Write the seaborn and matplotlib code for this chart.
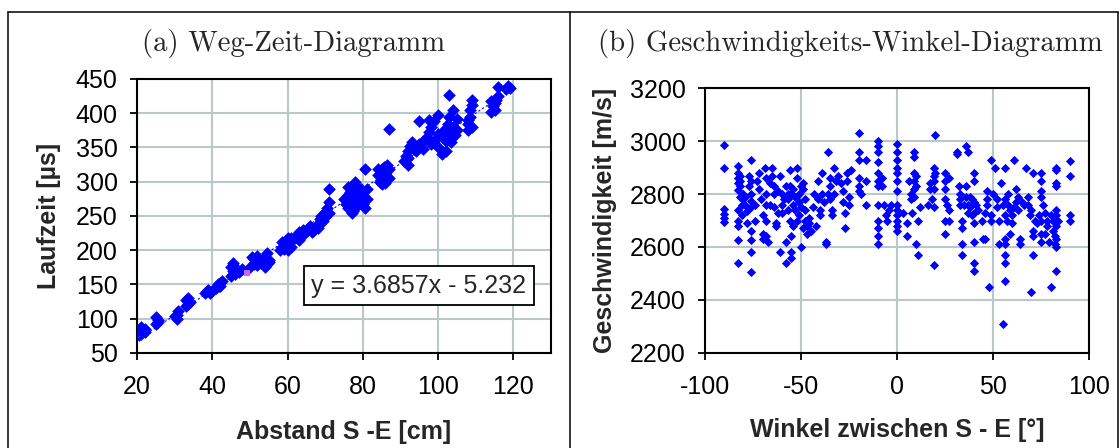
import pandas as pd
import matplotlib
matplotlib.use("Agg")
import matplotlib.pyplot as plt
import seaborn as sns
from matplotlib.lines import Line2D

# Weg-Zeit data
abstand = [21, 21.5, 22, 21, 22, 20.5,
           25, 25.5, 25, 25.5,
           30.5, 30.5, 31, 30,
           33, 33.5, 33, 34, 33.5,
           38, 38.5, 39, 40, 41, 42, 41.5, 39.5,
           42, 42.5, 41.8,
           45.5, 45, 45.5, 45, 46, 45.5,
           47, 48, 50, 51, 51.5, 52, 53, 50.5, 52, 51,
           54, 54.5, 55, 54, 54.5, 55,
           58, 58.5, 59, 59.5, 60, 60.5, 61, 59, 60, 58.5, 61, 60,
           62, 62.5, 63, 64, 63, 64,
           65, 65.5, 66, 67, 66.5,
           68, 68.5, 69, 70, 69.5, 70, 70.5, 68,
           71, 71, 71,
           75, 75.5, 76, 76, 76.5, 77, 77, 77.5, 78, 78, 78.5, 79, 79, 79.5,
           80, 80, 80.5, 81, 81, 77, 76, 78, 80,
           80.5,
           84, 84.5, 85, 85, 85.5, 86, 86, 86.5, 87, 85, 84, 86.5, 87,
           87,
           91, 91.5, 92, 92.5, 92, 93, 93.5, 92,
           94, 95, 95, 96, 96, 97, 97.5, 98, 98, 99, 99, 100, 100, 100,
           101, 101, 101.5, 102, 102, 102.5, 103, 103, 103.5, 104, 104,
           104.5, 105, 105, 103, 95, 97.5,
           108, 108, 108.5, 108.5, 109, 109, 108, 109,
           114, 114.5, 115, 115.5, 116, 116, 115, 114,
           118, 118.5, 119]
laufzeit = [78, 82, 85, 88, 80, 76,
            92, 98, 103, 95,
            100, 106, 112, 104,
            118, 122, 127, 125, 130,
            137, 140, 142, 140, 145, 148, 150, 137,
            152, 155, 148,
            182, 175, 170, 163, 166, 178,
            168, 172, 175, 180, 185, 178, 182, 190, 192, 187,
            176, 180, 186, 190, 196, 183,
            200, 205, 210, 215, 208, 212, 218, 202, 200, 212, 205, 218,
            218, 222, 226, 230, 215, 222,
            228, 232, 236, 230, 226,
            238, 245, 250, 256, 242, 248, 262, 232,
            289, 270, 255,
            275, 268, 262, 280, 285, 290, 270, 258, 278, 295, 265, 285, 272, 290,
            280, 268, 262, 275, 290, 255, 293, 300, 285,
            318,
            310, 300, 305, 318, 322, 312, 298, 315, 305, 296, 318, 325, 318,
            377,
            330, 338, 345, 352, 325, 358, 348, 335,
            345, 350, 355, 360, 348, 365, 372, 355, 380, 360, 388, 370, 398, 350,
            365, 340, 375, 360, 345, 385, 370, 395, 358, 380, 405,
            368, 392, 375, 427, 388, 390,
            375, 385, 395, 405, 412, 420, 390, 380,
            402, 410, 415, 420, 425, 438, 405, 418,
            435, 440, 437]

# second series (single magenta point)
abstand_2 = [49.3]
laufzeit_2 = [167]

# trendline coefficients from the label
steigung = 3.6857
achse = -5.232
trend_x = [20.5, 119.5]

# Geschwindigkeit-Winkel data
winkel = [-90, -90, -90, -90, -90, -90,
          -83, -83, -83, -83, -83, -83, -83, -83, -83, -83, -82, -82,
          -80, -80, -79, -79, -78, -78,
          -76, -76, -76, -76, -76, -76, -76, -76, -76,
          -72, -72, -71, -70, -70, -70, -69, -68, -68, -68, -68, -68, -67,
          -65, -65, -64, -64, -63, -63, -62, -61, -61, -60, -60, -60,
          -58, -58, -57, -57, -56, -56, -56, -55, -55, -55, -54, -54, -54,
          -52, -52, -51, -51, -51, -50, -49, -49, -48, -48, -48, -47, -47,
          -46, -46,
          -42, -41, -41, -40, -40, -39, -39,
          -37, -37, -36, -35, -35, -35, -34, -34, -33, -33, -32,
          -28, -28, -27, -27, -26, -26, -25, -25, -24,
          -20, -20, -20, -20, -20, -20, -19,
          -16, -16, -16,
          -10, -10, -10, -10, -10, -10, -10, -10, -10, -10, -10, -10,
          -8, -8, -7, -6, -5, -4, -3,
          0, 0, 0, 0, 0, 0, 0, 0, 0, 0, 0, 0, 0,
          3, 5, 5, 6, 7, 7, 8,
          9, 9, 9, 9, 9, 9, 10, 11, 11, 12, 10, 10,
          16, 17, 17, 18, 19, 19, 19, 19, 19, 19, 20, 20,
          25, 25, 25, 25, 25, 25, 26, 27, 27, 27,
          31, 31, 32, 33, 33, 34, 34, 34, 34,
          36, 37, 36, 37, 38, 38, 39,
          40, 40, 40, 40, 40, 40, 40, 40,
          45, 46, 46, 47, 47, 47, 48, 49, 49, 49,
          51, 52, 52, 53, 53, 54, 55, 56, 56, 56, 56, 56, 56, 56, 56,
          58, 58, 59, 60, 60, 61, 62, 62, 63, 64, 64, 65,
          67, 68, 68, 69, 70, 71, 71, 71, 71, 72,
          75, 75, 75, 75, 75, 75, 75, 76, 77, 78, 78,
          80, 81, 81, 82, 82, 83, 83, 83, 83, 83, 83, 83, 83, 83, 83,
          90, 90, 90, 90,
          -82, -82, -81, -81, -77, -77, -74, -74, -73, -66, -66, -64,
          -62, -59, -58, -57, -55, -53, -53, -52, -50, -50, -49, -45,
          -44, -43, -38, -36, -31, -29,
          33, 35, 36, 37, 39, 41, 42, 44, 50, 55, 57, 59, 61, 63, 66,
          70, 73, 74, 77, 79, 80, 84]
geschw = [2985, 2900, 2745, 2725, 2695, 2710,
          2905, 2880, 2860, 2840, 2815, 2740, 2700, 2680, 2625, 2540, 2830, 2850,
          2800, 2780, 2760, 2790, 2735, 2690,
          2928, 2850, 2800, 2775, 2750, 2660, 2625, 2580, 2505,
          2880, 2820, 2780, 2720, 2650, 2630, 2900, 2860, 2800, 2760, 2700, 2640, 2620,
          2900, 2870, 2830, 2750, 2690, 2680, 2730, 2580, 2870, 2800, 2760, 2730,
          2620, 2540, 2800, 2780, 2890, 2830, 2700, 2640, 2580, 2560, 2820, 2760, 2680,
          2900, 2860, 2800, 2770, 2720, 2600, 2840, 2820, 2780, 2740, 2700, 2680, 2650,
          2690, 2710,
          2680, 2780, 2850, 2740, 2720, 2880, 2800,
          2620, 2610, 2960, 2860, 2830, 2780, 2740, 2720, 2800, 2900, 2850,
          2810, 2770, 2730, 2670, 2880, 2850, 2790, 2760, 2890,
          3030, 2960, 2930, 2860, 2830, 2810, 2800,
          2930, 2850, 2760,
          3000, 2980, 2960, 2920, 2880, 2850, 2830, 2760, 2700, 2670, 2640, 2610,
          2860, 2830, 2760, 2720, 2700, 2740, 2760,
          2990, 2960, 2930, 2900, 2880, 2850, 2810, 2760, 2740, 2720, 2700, 2680, 2660,
          2730, 2690, 2640, 2850, 2800, 2780, 2730,
          2960, 2940, 2880, 2850, 2820, 2790, 2610, 2570, 2700, 2750, 2870, 2830,
          2760, 2840, 2820, 2780, 2900, 2870, 2850, 2820, 2750, 2530, 3025, 2880,
          2880, 2850, 2820, 2780, 2700, 2650, 2760, 2860, 2740, 2700,
          2960, 2950, 2830, 2780, 2760, 2700, 2670, 2610, 2570,
          2980, 2960, 2830, 2760, 2790, 2750, 2720,
          2880, 2850, 2770, 2730, 2690, 2620, 2540, 2510,
          2630, 2630, 2730, 2810, 2780, 2760, 2450, 2930, 2720, 2700,
          2900, 2780, 2750, 2700, 2610, 2840, 2310, 2900, 2780, 2720, 2630, 2610, 2570, 2540, 2470,
          2800, 2760, 2740, 2720, 2690, 2930, 2820, 2770, 2740, 2630, 2610, 2770,
          2900, 2790, 2760, 2720, 2430, 2880, 2660, 2640, 2570, 2700,
          2880, 2850, 2810, 2790, 2700, 2650, 2620, 2760, 2730, 2680, 2700,
          2450, 2700, 2660, 2640, 2610, 2900, 2890, 2840, 2830, 2740, 2720, 2680, 2630, 2600, 2510,
          2925, 2870, 2720, 2700,
          2870, 2790, 2760, 2720, 2830, 2870, 2760, 2700, 2850, 2840, 2760, 2800,
          2810, 2780, 2830, 2740, 2800, 2790, 2740, 2700, 2750, 2830, 2670, 2660,
          2750, 2800, 2770, 2800, 2870, 2840,
          2800, 2760, 2790, 2730, 2780, 2760, 2740, 2700, 2800, 2760, 2700, 2650, 2750, 2790, 2760,
          2740, 2690, 2720, 2650, 2620, 2720, 2700]

df_a = pd.DataFrame({"Abstand": abstand, "Laufzeit": laufzeit})
df_b = pd.DataFrame({"Winkel": winkel, "Geschwindigkeit": geschw})

sns.set_style("white")
plt.rcParams["font.family"] = ["Liberation Sans", "DejaVu Sans"]
plt.rcParams["axes.unicode_minus"] = False

blue = "#0000ff"
grid_col = "#b9c9c9"
fs = 18

fig = plt.figure(figsize=(11.2, 4.48), dpi=100)
ax1 = fig.add_axes([0.1223, 0.2121, 0.3697, 0.6116])
ax2 = fig.add_axes([0.6295, 0.2127, 0.3429, 0.5902])

# (a) Weg-Zeit
sns.lineplot(x=trend_x, y=[steigung * v + achse for v in trend_x], ax=ax1,
             color=blue, linewidth=0.8, linestyle=(0, (2, 2)))
sns.scatterplot(data=df_a, x="Abstand", y="Laufzeit", ax=ax1, marker="D",
                s=42, color=blue, linewidth=0, zorder=3)
sns.scatterplot(x=abstand_2, y=laufzeit_2, ax=ax1, marker="s", s=24,
                color="#cc66e6", linewidth=0, zorder=4)
ax1.set_xlim(20, 130)
ax1.set_ylim(50, 450)
ax1.set_xticks(range(20, 121, 20))
ax1.set_yticks(range(50, 451, 50))
ax1.set_xlabel("Abstand S -E [cm]", fontsize=fs, fontweight="bold")
ax1.set_ylabel("Laufzeit [µs]", fontsize=fs, fontweight="bold")
ax1.xaxis.set_label_coords(0.5, -0.288)
ax1.yaxis.set_label_coords(-0.213, 0.5)
ax1.text(0.68, 0.246, "y = 3.6857x - 5.232", transform=ax1.transAxes,
         ha="center", va="center", fontsize=fs, zorder=5,
         bbox=dict(boxstyle="square,pad=0.3", fc="white", ec="black", lw=1.3))

# (b) Geschwindigkeit-Winkel
sns.scatterplot(data=df_b, x="Winkel", y="Geschwindigkeit", ax=ax2, marker="D",
                s=22, color=blue, linewidth=0, zorder=3)
ax2.set_xlim(-100, 100)
ax2.set_ylim(2200, 3200)
ax2.set_xticks(range(-100, 101, 50))
ax2.set_yticks(range(2200, 3201, 200))
ax2.set_xlabel("Winkel zwischen S - E [°]", fontsize=fs, fontweight="bold")
ax2.set_ylabel("Geschwindigkeit [m/s]", fontsize=fs, fontweight="bold")
ax2.xaxis.set_label_coords(0.5, -0.292)
ax2.yaxis.set_label_coords(-0.26, 0.5)

for ax in (ax1, ax2):
    ax.xaxis.label.set_va("center")
    ax.yaxis.label.set_va("center")
    ax.grid(True, color=grid_col, linewidth=1.5)
    ax.set_axisbelow(True)
    for sp in ax.spines.values():
        sp.set_visible(True)
        sp.set_color("black")
        sp.set_linewidth(1.5)
    ax.tick_params(axis="both", direction="out", length=5, width=1.3,
                   labelsize=fs, colors="black", left=True, bottom=True)
    ax.tick_params(axis="x", pad=11)
    ax.tick_params(axis="y", pad=9)

# panel titles
fig.text(294 / 1120, 1 - 43 / 448, "(a) Weg-Zeit-Diagramm", family="cmr10",
         fontsize=20.7, ha="center", va="center")
fig.text(850 / 1120, 1 - 43 / 448, "(b) Geschwindigkeits-Winkel-Diagramm",
         family="cmr10", fontsize=20.7, ha="center", va="center")

# table borders around the two panels
top = 1 - 11.7 / 448
for xs, ys in [([8 / 1120, 1118 / 1120], [top, top]),
               ([8 / 1120, 8 / 1120], [0, top]),
               ([570 / 1120, 570 / 1120], [0, top]),
               ([1118 / 1120, 1118 / 1120], [0, top])]:
    fig.add_artist(Line2D(xs, ys, transform=fig.transFigure, color="black", lw=1.1))

fig.savefig("out.png", dpi=100)
